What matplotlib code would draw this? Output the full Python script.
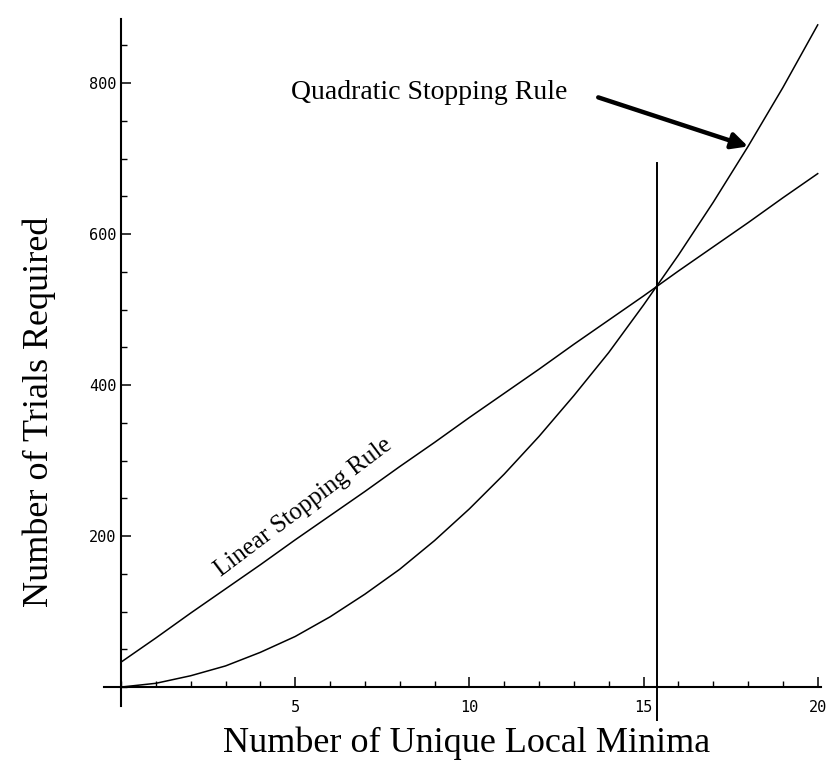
import matplotlib
matplotlib.use("Agg")
import matplotlib.pyplot as plt
from matplotlib.ticker import MultipleLocator

# Datos
minima = [0, 1, 2, 3, 4, 5, 6, 7, 8, 9, 10, 11, 12, 13, 14, 15, 16, 17, 18, 19, 20]
linear_rule = [33, 65, 98, 130, 162, 195, 227, 259, 292, 324, 357, 389, 421,
               454, 486, 518, 551, 583, 615, 648, 680]
quadratic_rule = [0, 5, 15, 28, 46, 67, 93, 123, 156, 194, 236, 282, 332,
                  386, 443, 506, 572, 642, 716, 794, 877]
crossing_x = 15.38
crossing_top = 694
crossing_bottom = -55
x_ticks = [5, 10, 15, 20]
y_ticks = [200, 400, 600, 800]

fig = plt.figure(figsize=(8.26, 7.77), dpi=100)
ax = fig.add_axes([0.1254, 0.072, 0.873, 0.9086])

ax.plot(minima, linear_rule, color="black", lw=1.1)
ax.plot(minima, quadratic_rule, color="black", lw=1.1)
ax.plot([crossing_x, crossing_x], [crossing_bottom, crossing_top], color="black", lw=1.4)

ax.set_xlim(-0.5, 20.2)
ax.set_ylim(-45, 890)

# Ejes estilo Mathematica que se cruzan en el origen
for s in ["top", "right"]:
    ax.spines[s].set_visible(False)
ax.spines["left"].set_position(("data", 0))
ax.spines["bottom"].set_position(("data", 0))
ax.spines["left"].set_bounds(-25, 885)
ax.spines["bottom"].set_bounds(-0.5, 20.1)
ax.spines["left"].set_linewidth(1.5)
ax.spines["bottom"].set_linewidth(1.5)

ax.set_xticks(x_ticks)
ax.set_yticks(y_ticks)
ax.xaxis.set_minor_locator(MultipleLocator(1))
ax.yaxis.set_minor_locator(MultipleLocator(50))
ax.tick_params(which="major", direction="in", length=7, width=1.1)
ax.tick_params(which="minor", direction="in", length=4, width=1.0)
ax.tick_params(axis="x", pad=9)
for lab in ax.get_xticklabels() + ax.get_yticklabels():
    lab.set_family("DejaVu Sans Mono")
    lab.set_fontsize(11)

serif = "Liberation Serif"
fig.text(0.565, 0.044, "Number of Unique Local Minima", family=serif,
         fontsize=26, ha="center", va="center")
fig.text(0.048, 0.47, "Number of Trials Required", family=serif,
         fontsize=26, ha="center", va="center", rotation=90)

# Etiqueta de la recta, pegada encima de la linea
ax.annotate("Linear Stopping Rule", xy=(5.6, 214), xytext=(-4, 7),
            textcoords="offset points", family=serif, fontsize=18,
            rotation=37, ha="center", va="bottom", rotation_mode="anchor")

# Etiqueta de la cuadratica con flecha
ax.text(12.8, 788, "Quadratic Stopping Rule", family=serif, fontsize=20,
        ha="right", va="center")
ax.annotate("", xy=(18.0, 716), xytext=(13.7, 781),
            arrowprops=dict(arrowstyle="-|>", color="black", lw=3.2,
                            mutation_scale=24, shrinkA=0, shrinkB=0))

fig.savefig("out.png", dpi=100)
